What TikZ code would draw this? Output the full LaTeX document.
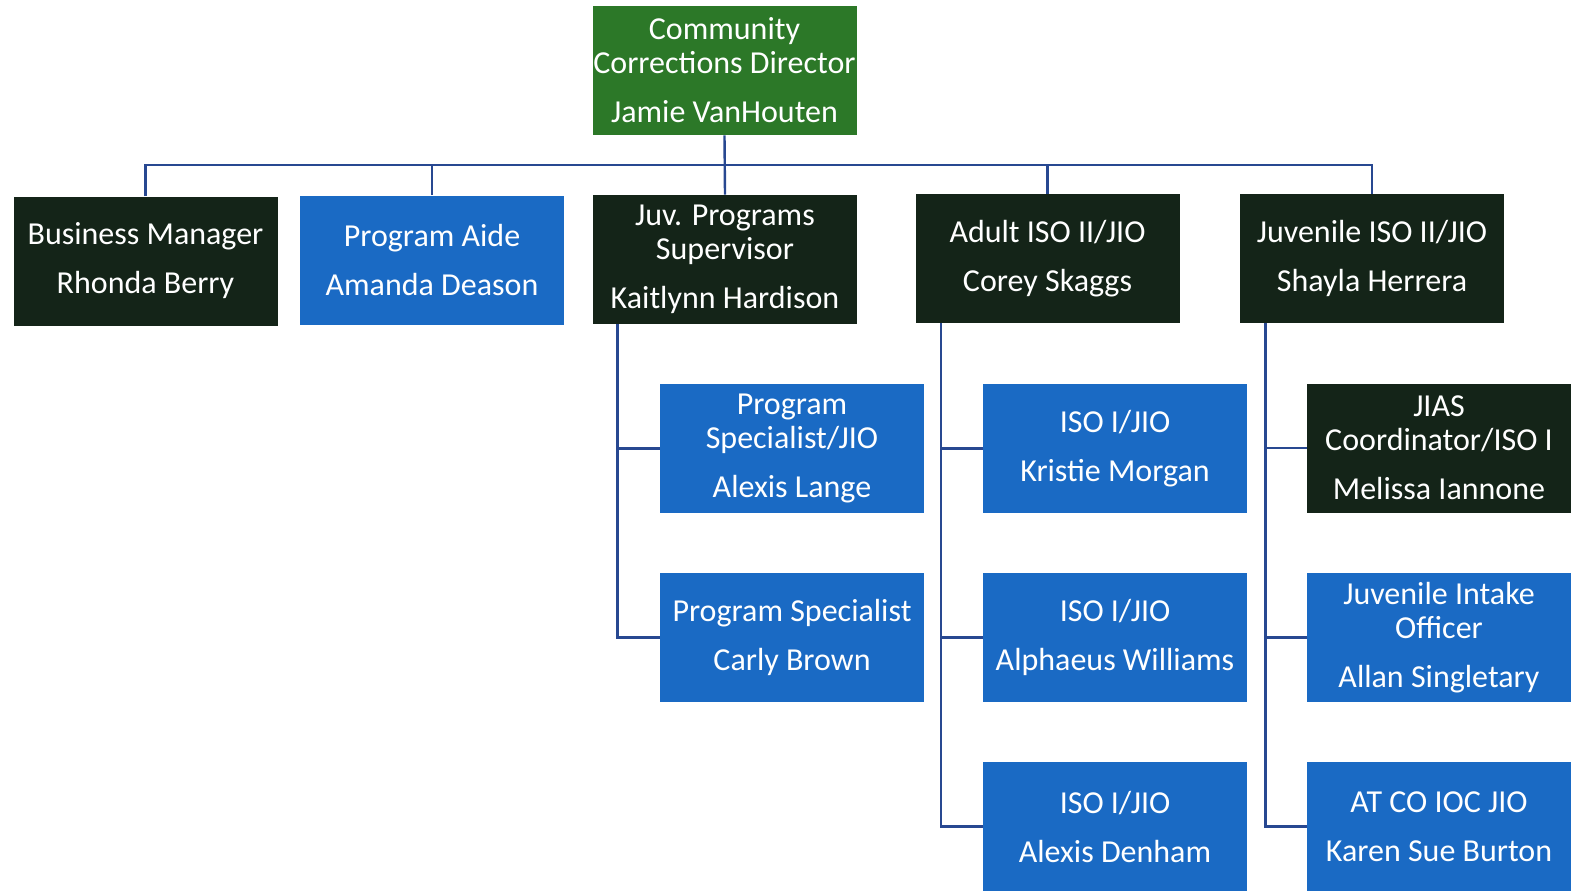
\documentclass[tikz,border=0pt]{standalone}
\usepackage{fontspec}
\setmainfont{Carlito}
\definecolor{dirgreen}{RGB}{44,120,40}
\definecolor{darkbox}{RGB}{20,36,24}
\definecolor{bluebox}{RGB}{26,106,196}
\definecolor{linkblue}{RGB}{40,72,145}
\tikzset{
  post/.style={rectangle, minimum width=132pt, minimum height=64.5pt, inner sep=0pt,
    align=center, text=white, font=\fontsize{16}{17}\selectfont},
  headpost/.style={post, fill=dirgreen},
  leadpost/.style={post, fill=darkbox},
  staffpost/.style={post, fill=bluebox},
  link/.style={draw=linkblue, line width=1.2pt}
}
\begin{document}
\begin{tikzpicture}[x=0.5pt, y=-0.5pt]
\useasboundingbox (0,0) rectangle (1571,891);

\node[headpost] (dir) at (724.5,70.5) {Community\\Corrections Director\\[7.5pt]Jamie VanHouten};

\node[leadpost]  (bm) at (145.5,261)  {Business Manager\\[7.5pt]Rhonda Berry};
\node[staffpost] (pa) at (432,260)    {Program Aide\\[7.5pt]Amanda Deason};
\node[leadpost]  (jp) at (725,259.5)  {Juv. Programs\\Supervisor\\[7.5pt]Kaitlynn Hardison};
\node[leadpost]  (ai) at (1047.5,258.5) {Adult ISO II/JIO\\[7.5pt]Corey Skaggs};
\node[leadpost]  (ji) at (1372,258.5) {Juvenile ISO II/JIO\\[7.5pt]Shayla Herrera};

\node[staffpost] (jp1) at (792,448.5) {Program\\Specialist/JIO\\[7.5pt]Alexis Lange};
\node[staffpost] (jp2) at (792,637.5) {Program Specialist\\[7.5pt]Carly Brown};

\node[staffpost] (ai1) at (1115,448.5) {ISO I/JIO\\[7.5pt]Kristie Morgan};
\node[staffpost] (ai2) at (1115,637.5) {ISO I/JIO\\[7.5pt]Alphaeus Williams};
\node[staffpost] (ai3) at (1115,826.5) {ISO I/JIO\\[7.5pt]Alexis Denham};

\node[leadpost]  (ji1) at (1439,448)   {JIAS\\Coordinator/ISO I\\[7.5pt]Melissa Iannone};
\node[staffpost] (ji2) at (1439,637.5) {Juvenile Intake\\Officer\\[7.5pt]Allan Singletary};
\node[staffpost] (ji3) at (1439,826.5) {AT CO IOC JIO\\[7.5pt]Karen Sue Burton};

\coordinate (bus) at (725,165);
\draw[link] (dir.south) -- (jp.north);
\draw[link] (bm.north) |- (bus) -| (ji.north);
\foreach \n in {pa,ai}
{
    \draw[link] (\n.north) -- (\n.north |- bus);
}

\draw[link] ([xshift=12.5pt]jp.south west) |- (jp2.west);
\draw[link] ([xshift=12.5pt]jp.south west) |- (jp1.west);
\foreach \b in {ai,ji}
{
    \draw[link] ([xshift=13pt]\b.south west) |- (\b3.west);
    \foreach \k in {1,2}
    {
        \draw[link] ([xshift=13pt]\b.south west) |- (\b\k.west);
    }
}
\end{tikzpicture}
\end{document}
